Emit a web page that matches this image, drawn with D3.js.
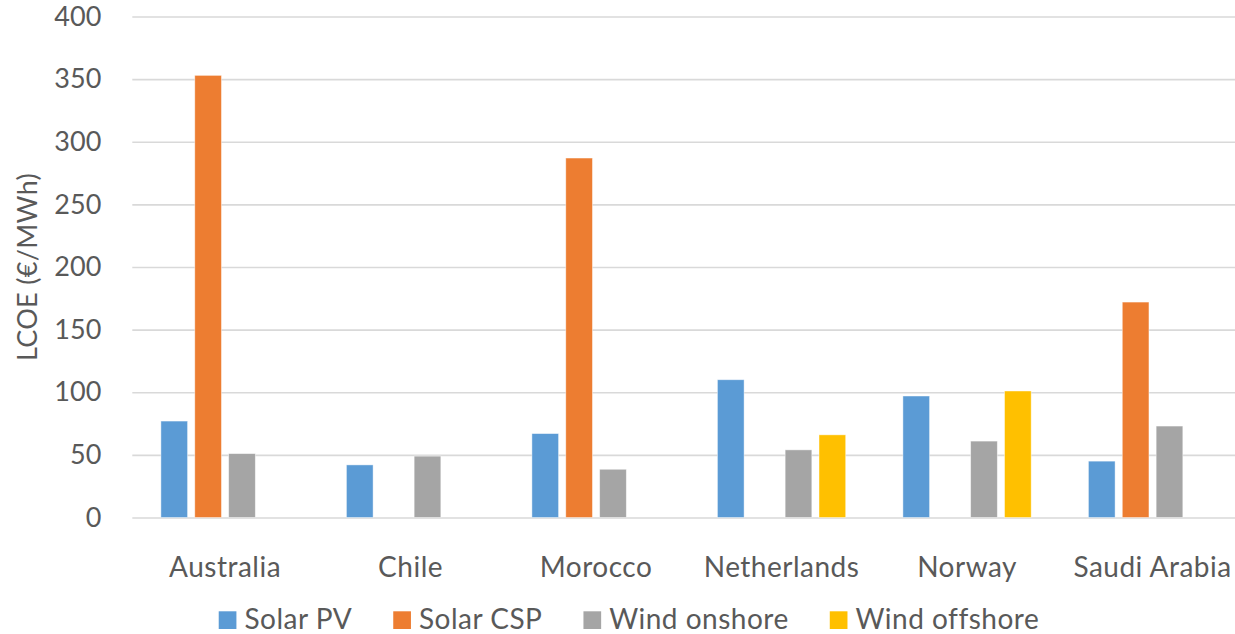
<!DOCTYPE html>
<html>
<head>
<meta charset="utf-8">
<script src="https://cdn.jsdelivr.net/npm/d3@7"></script>
<style>
  html, body { margin: 0; padding: 0; background: #fff; overflow: hidden; }
  svg { display: block; font-family: Lato, "Noto Sans", sans-serif; }
</style>
</head>
<body>
<svg id="chart" width="1235" height="634"></svg>
<script>
// LCOE by country and technology (€/MWh); null = technology not assessed
const countries = ["Australia", "Chile", "Morocco", "Netherlands", "Norway", "Saudi Arabia"];
const seriesNames = ["Solar PV", "Solar CSP", "Wind onshore", "Wind offshore"];
const solarPV      = [77, 42, 67, 110, 97, 45];
const solarCSP     = [353, null, 287, null, null, 172];
const windOnshore  = [51, 49, 38.5, 54, 61, 73];
const windOffshore = [null, null, null, 66, 101, null];
const yTicks = [0, 50, 100, 150, 200, 250, 300, 350, 400];
const yTitle = "LCOE (€/MWh)";

const seriesValues = [solarPV, solarCSP, windOnshore, windOffshore];
const colors = ["#5B9BD5", "#ED7D31", "#A5A5A5", "#FFC000"];
const textColor = "#595959";
const tickFont = 27;
const labelFont = 28;
const labelSpacing = "0.5px";

const svg = d3.select("#chart");
const margin = { left: 132.3, top: 16.5, bottom: 116.5 };
const plotW = 1113;
const plotH = 634 - margin.top - margin.bottom;

const g = svg.append("g").attr("transform", `translate(${margin.left},${margin.top})`);

const x = d3.scaleBand().domain(countries).range([0, plotW]).padding(0);
const groupPad = 28.6;
const xs = d3.scaleBand().domain(seriesNames)
  .range([groupPad, x.bandwidth() - groupPad])
  .paddingInner(0.212).paddingOuter(0);
const y = d3.scaleLinear().domain([0, 400]).range([plotH, 0]);

// horizontal gridlines
g.append("g")
  .call(d3.axisLeft(y).tickValues(yTicks).tickSize(-plotW).tickFormat(""))
  .call(s => s.select(".domain").remove())
  .call(s => s.selectAll("line").attr("stroke", "#D9D9D9").attr("stroke-width", 1.6));

// y tick labels
g.append("g")
  .call(d3.axisLeft(y).tickValues(yTicks).tickSize(0).tickPadding(31))
  .call(s => s.select(".domain").remove())
  .call(s => s.selectAll("text")
    .attr("fill", textColor).style("font-size", tickFont + "px")
    .style("font-family", "Lato, 'Noto Sans', sans-serif"));

// bars
const rows = countries.map((c, i) => ({ country: c, values: seriesNames.map((s, k) => ({ series: s, k, v: seriesValues[k][i] })) }));
const groups = g.selectAll("g.country").data(rows).join("g")
  .attr("class", "country")
  .attr("transform", d => `translate(${x(d.country)},0)`);
groups.selectAll("rect")
  .data(d => d.values.filter(e => e.v != null))
  .join("rect")
  .attr("x", d => xs(d.series))
  .attr("width", xs.bandwidth())
  .attr("y", d => y(d.v))
  .attr("height", d => y(0) - y(d.v))
  .attr("fill", d => colors[d.k])
  .attr("stroke", "#fff").attr("stroke-opacity", 0.55).attr("stroke-width", 0.8);

// x category labels
g.append("g")
  .attr("transform", `translate(0,${plotH})`)
  .call(d3.axisBottom(x).tickSize(0).tickPadding(0))
  .call(s => s.select(".domain").remove())
  .call(s => s.selectAll("text")
    .attr("dy", 0).attr("y", 59.2)
    .attr("fill", textColor).style("font-size", labelFont + "px")
    .style("letter-spacing", labelSpacing)
    .style("font-family", "Lato, 'Noto Sans', sans-serif"));

// y axis title
svg.append("text")
  .attr("transform", `translate(37,${margin.top + plotH / 2}) rotate(-90)`)
  .attr("text-anchor", "middle")
  .attr("fill", textColor)
  .style("font-size", tickFont + "px")
  .style("letter-spacing", "0.3px")
  .text(yTitle);

// legend
const legend = svg.append("g");
const sw = 17.7, gapText = 8, gapItem = 41;
let cx = 0;
seriesNames.forEach((name, k) => {
  const item = legend.append("g").attr("transform", `translate(${cx},0)`);
  item.append("rect").attr("x", 0).attr("y", -17.7).attr("width", sw).attr("height", sw).attr("fill", colors[k]);
  const t = item.append("text").attr("x", sw + gapText).attr("y", 0)
    .attr("fill", textColor).style("font-size", labelFont + "px")
    .style("letter-spacing", labelSpacing).text(name);
  cx += sw + gapText + t.node().getComputedTextLength() + gapItem;
});
const legendW = cx - gapItem;
legend.attr("transform", `translate(${629 - legendW / 2},629)`);
</script>
</body>
</html>
